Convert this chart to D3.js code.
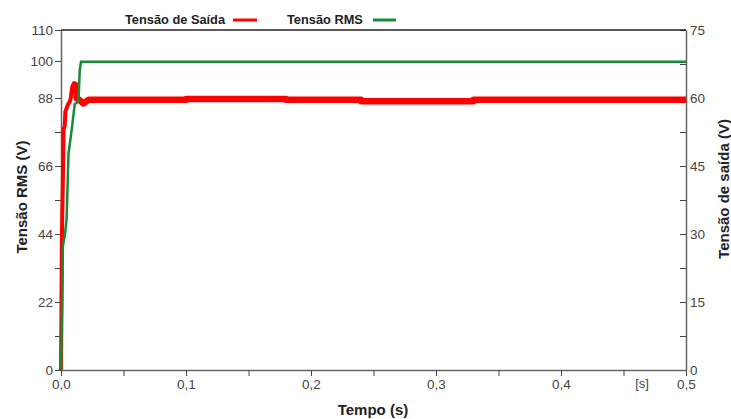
<!doctype html>
<html>
<head>
<meta charset="utf-8">
<script src="https://d3js.org/d3.v7.min.js"></script>
<style>
body{margin:0;background:#fff;}
svg text{font-family:"Liberation Sans",Arial,sans-serif;}
</style>
</head>
<body>
<svg width="731" height="419" id="chart"></svg>
<script>
// tempo (s) e tensões
var rmsTime  = [0, 0.0008, 0.0015, 0.0032, 0.0045, 0.006, 0.0085, 0.011, 0.014, 0.015, 0.016, 0.5];
var rmsValue = [0, 20, 40, 44, 49, 70, 77.5, 86, 87, 97, 99.7, 99.7];

var outTime  = [0, 0.0003, 0.0006, 0.0008, 0.0015, 0.002, 0.003, 0.0035, 0.0055, 0.0075, 0.009, 0.0105, 0.012, 0.0125, 0.015, 0.018, 0.022, 0.1, 0.1001, 0.18, 0.1801, 0.24, 0.2401, 0.33, 0.3301, 0.5];
var outValue = [0, 11, 25, 31, 42, 53, 54, 57, 58.5, 59.5, 62.5, 63.3, 62.5, 60, 59.5, 58.8, 59.6, 59.6, 59.8, 59.8, 59.6, 59.6, 59.3, 59.3, 59.6, 59.6];

var leftTicks  = [0, 11, 22, 33, 44, 55, 66, 77, 88, 100, 110];
var leftLabels = [0, 22, 44, 66, 88, 100, 110];
var rightTicks = [0, 7.5, 15, 22.5, 30, 37.5, 45, 52.5, 60, 67.5, 75];
var rightLabels = [0, 15, 30, 45, 60, 75];
var timeTicks  = [0, 0.05, 0.1, 0.15, 0.2, 0.25, 0.3, 0.35, 0.4, 0.45, 0.5];
var timeLabels = [0, 0.1, 0.2, 0.3, 0.4, 0.5];

var svg = d3.select("#chart");
var mLeft = 61, mRight = 686, mTop = 30, mBottom = 370;

var x = d3.scaleLinear().domain([0, 0.5]).range([mLeft, mRight]);
var yL = d3.scaleLinear().domain([0, 110]).range([mBottom, mTop]);
var yR = d3.scaleLinear().domain([0, 75]).range([mBottom, mTop]);

var fmt = function(d){ return d3.format(".1f")(d).replace(".", ","); };

// eixo esquerdo
var gL = svg.append("g").attr("transform", "translate(" + mLeft + ",0)")
  .call(d3.axisLeft(yL).tickValues(leftTicks).tickSize(6).tickSizeOuter(0).tickPadding(2)
    .tickFormat(function(d){ return leftLabels.indexOf(d) >= 0 ? d : ""; }));

// eixo direito
var gR = svg.append("g").attr("transform", "translate(" + mRight + ",0)")
  .call(d3.axisRight(yR).tickValues(rightTicks).tickSize(0).tickSizeOuter(0).tickPadding(4)
    .tickFormat(function(d){ return rightLabels.indexOf(d) >= 0 ? d : ""; }));
gR.selectAll(".tick").append("line").attr("x1", -6).attr("x2", 0).attr("stroke", "#444");

// eixo inferior
var gB = svg.append("g").attr("transform", "translate(0," + mBottom + ")")
  .call(d3.axisBottom(x).tickValues(timeTicks).tickSize(6).tickSizeOuter(0).tickPadding(3)
    .tickFormat(function(d){ return timeLabels.indexOf(d) >= 0 ? fmt(d) : ""; }));

[gL, gR, gB].forEach(function(g){
  g.select(".domain").attr("stroke", "#666").attr("stroke-width", 1.5);
  g.selectAll(".tick line").attr("stroke", "#444");
  g.selectAll("text").attr("fill", "#444").style("font-size", "13.5px");
});

// borda superior
svg.append("line").attr("x1", mLeft).attr("x2", mRight).attr("y1", mTop).attr("y2", mTop)
  .attr("stroke", "#222").attr("stroke-width", 1.5);

// series
var rmsData = rmsTime.map(function(t, i){ return [t, rmsValue[i]]; });
var outData = outTime.map(function(t, i){ return [t, outValue[i]]; });

var lineR = d3.line().x(function(d){ return x(d[0]); }).y(function(d){ return yR(d[1]); });
var lineL = d3.line().x(function(d){ return x(d[0]); }).y(function(d){ return yL(d[1]); });

// subida (mais fina) e regime (faixa grossa)
svg.append("path").datum(outData.filter(function(d){ return d[0] <= 0.0125; }))
  .attr("fill", "none").attr("stroke", "#ff0000").attr("stroke-width", 4)
  .attr("stroke-linejoin", "round").attr("d", lineR);
svg.append("path").datum(outData.filter(function(d){ return d[0] >= 0.0105; }))
  .attr("fill", "none").attr("stroke", "#ff0000").attr("stroke-width", 6.5)
  .attr("stroke-linejoin", "round").attr("d", lineR);

svg.append("path").datum(rmsData)
  .attr("fill", "none").attr("stroke", "#168a36").attr("stroke-width", 2.5)
  .attr("d", lineL);

// titulos dos eixos
svg.append("text").attr("transform", "translate(27,197) rotate(-90)")
  .attr("text-anchor", "middle").style("font-size", "15px").style("font-weight", "bold")
  .attr("fill", "#222").text("Tensão RMS (V)");
svg.append("text").attr("transform", "translate(729,189) rotate(-90)")
  .attr("text-anchor", "middle").style("font-size", "15px").style("font-weight", "bold")
  .attr("fill", "#222").text("Tensão de saída (V)");
svg.append("text").attr("x", 373).attr("y", 415)
  .attr("text-anchor", "middle").style("font-size", "15px").style("font-weight", "bold")
  .attr("fill", "#222").text("Tempo (s)");
svg.append("text").attr("x", 642).attr("y", 388)
  .attr("text-anchor", "middle").style("font-size", "13px")
  .attr("fill", "#444").text("[s]");

// legenda
svg.append("text").attr("x", 125).attr("y", 24).style("font-size", "12.8px").style("font-weight", "bold")
  .attr("fill", "#222").text("Tensão de Saída");
svg.append("line").attr("x1", 233).attr("x2", 257).attr("y1", 20).attr("y2", 20)
  .attr("stroke", "#ff0000").attr("stroke-width", 3);
svg.append("text").attr("x", 287).attr("y", 24).style("font-size", "12.8px").style("font-weight", "bold")
  .attr("fill", "#222").text("Tensão RMS");
svg.append("line").attr("x1", 373).attr("x2", 396).attr("y1", 20).attr("y2", 20)
  .attr("stroke", "#168a36").attr("stroke-width", 3);
</script>
</body>
</html>
